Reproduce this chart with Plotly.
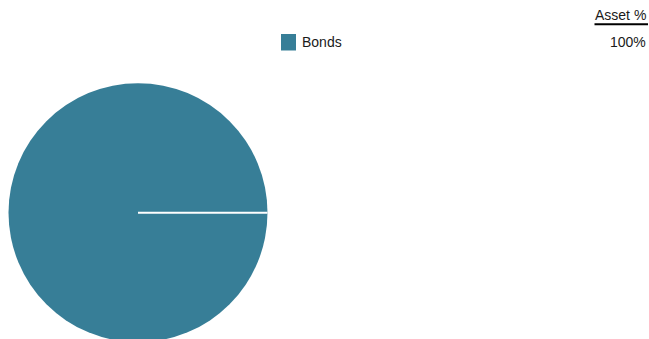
import plotly.graph_objects as go

labels = ["Bonds"]
values = [100]
colors = ["#377e97"]
header = "Asset %"
pct_labels = ["100%"]

W, H = 649, 344
FONT = "Liberation Sans Narrow, Arial Narrow, Liberation Sans, Arial, sans-serif"
TXT = "#1a1a1a"

# pie box in pixels
cx, cy, r = 138.0, 212.7, 129.5
x0, x1 = (cx - r) / W, (cx + r) / W
y0, y1 = 1 - (cy + r) / H, 1 - (cy - r) / H


def px(x):
    return x / W


def py(y):
    return 1 - y / H


fig = go.Figure()
fig.add_trace(go.Pie(
    labels=labels, values=values,
    marker=dict(colors=colors, line=dict(width=0)),
    textinfo="none", hoverinfo="label+percent",
    sort=False, direction="counterclockwise", rotation=90,
    domain=dict(x=[x0, x1], y=[max(0, y0), y1]),
    showlegend=False,
))

# slice border (radial line at 0 degrees)
fig.add_shape(type="line", xref="paper", yref="paper",
              x0=px(cx), x1=px(cx + r), y0=py(cy), y1=py(cy),
              line=dict(color="white", width=2))

# legend (swatch + label)
for i, (lab, col) in enumerate(zip(labels, colors)):
    fig.add_shape(type="rect", xref="paper", yref="paper",
                  x0=px(281), x1=px(296), y0=py(50.5), y1=py(34),
                  fillcolor=col, line=dict(width=0))
    fig.add_annotation(text=lab, xref="paper", yref="paper", x=px(300), y=py(41.5),
                       xanchor="left", yanchor="middle", showarrow=False,
                       font=dict(family=FONT, size=14, color=TXT))

# right-hand table
fig.add_annotation(text=header, xref="paper", yref="paper", x=px(647.5), y=py(15.5),
                   xanchor="right", yanchor="middle", showarrow=False,
                   font=dict(family=FONT, size=14, color=TXT))
fig.add_shape(type="line", xref="paper", yref="paper",
              x0=px(594.5), x1=px(648), y0=py(24.2), y1=py(24.2),
              line=dict(color="#000000", width=2))
for i, t in enumerate(pct_labels):
    fig.add_annotation(text=t, xref="paper", yref="paper", x=px(647.5), y=py(41.5 + 20 * i),
                       xanchor="right", yanchor="middle", showarrow=False,
                       font=dict(family=FONT, size=14, color=TXT))

fig.update_layout(
    width=W, height=H,
    margin=dict(l=0, r=0, t=0, b=0),
    paper_bgcolor="white", plot_bgcolor="white",
    font=dict(family=FONT, size=14, color=TXT),
    showlegend=False,
)

fig.write_html("out.html")
